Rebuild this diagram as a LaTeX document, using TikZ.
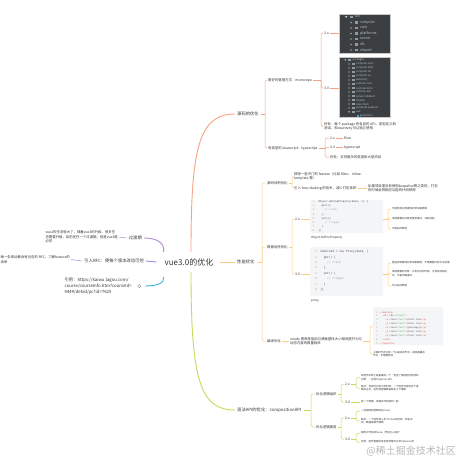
\documentclass[tikz,border=0pt]{standalone}
\usepackage{fontspec}
\setmainfont{Noto Sans CJK SC}
\setmonofont{DejaVu Sans Mono}
\definecolor{coral}{HTML}{F7A283}
\definecolor{peach}{HTML}{FDCB83}
\definecolor{lime}{HTML}{C7DA5B}
\definecolor{plum}{HTML}{B589CC}
\definecolor{lav}{HTML}{9A8FE0}
\definecolor{sky}{HTML}{34B3D5}
\definecolor{ink}{HTML}{333333}
\definecolor{darkbg}{HTML}{3C3F41}
\definecolor{panelrim}{HTML}{C8C8C8}
\definecolor{treeink}{HTML}{BFC4C8}
\definecolor{foldercol}{HTML}{8E9BA4}
\definecolor{codebg}{HTML}{F4F5F7}
\definecolor{codeink}{HTML}{4A4A4A}
\definecolor{lineno}{HTML}{A8A8A8}
\definecolor{remark}{HTML}{A0A1A7}
\definecolor{kw}{HTML}{A626A4}
\definecolor{tagred}{HTML}{E45649}
\definecolor{strgreen}{HTML}{50A14F}
\definecolor{mark}{HTML}{B8B8B8}

\begin{document}
\begin{tikzpicture}[x=1pt,y=-1pt]
  \tikzstyle{every node}+=[inner sep=1pt, text=ink]
  \tikzstyle{centre}=[font=\fontsize{8}{9}\selectfont, minimum height=20pt]
  \tikzstyle{topic}=[inner sep=2pt, font=\fontsize{4.3}{6}\selectfont, align=left]
  \tikzstyle{leaf}=[anchor=west, font=\fontsize{3.4}{4.4}\selectfont, align=left]
  \tikzstyle{fine}=[anchor=west, font=\fontsize{2.5}{3.7}\selectfont, align=left]
  \tikzstyle{trunk}=[line width=0.9pt]
  \tikzstyle{wire}=[line width=0.5pt, rounded corners=1.5pt]
  \tikzstyle{darkpanel}=[anchor=north west, fill=darkbg, draw=panelrim, line width=0.6pt, inner sep=0pt]
  \tikzstyle{codepanel}=[anchor=north west, fill=codebg, inner sep=0pt, rounded corners=1pt]
  \tikzstyle{codetext}=[anchor=north west, inner sep=0pt, align=left, text=codeink]
  \tikzstyle{treetext}=[anchor=west, inner sep=0pt, text=treeink]
  \fill[white] (0,0) rectangle (460,460);
  \useasboundingbox (0,0) rectangle (460,460);

  \node[centre] (root) at (189,262) {vue3.0的优化};

  % 源码的优化
  \node[topic, anchor=west] (src) at (235,114) {源码的优化};
  \draw[trunk, coral] ([xshift=2pt]root.north) .. controls (191,150) and (198,114) .. (src.west);
  \coordinate (srcb) at (265,114);
  \draw[wire, coral] (src.east) -- (srcb);
  \node[leaf] (mono) at (267,80) {更好的管理方式：monorepo};
  \node[leaf] (typed) at (267,148) {有类型的Javascript：typescript};
  \foreach \c in {mono,typed} \draw[wire, coral] (srcb) |- (\c.west);

  \coordinate (monob) at (321,80);
  \draw[wire, coral] (mono.east) -- (monob);
  \node[leaf] (mono2) at (323,33) {2.x};
  \node[leaf] (mono3) at (323,88) {3.0};
  \node[leaf] (monogain) at (323,126.5) {好处：每个 package 有各自的 API、类型定义和\\测试，和reactivity可以独立使用};
  \foreach \c in {mono2,mono3,monogain} \draw[wire, coral] (monob) |- (\c.west);

  \node[darkpanel, minimum width=51pt, minimum height=39pt] (tree1) at (339,14) {};
  \node[darkpanel, minimum width=51pt, minimum height=60pt] (tree2) at (339,57) {};
  \draw[wire, coral] (mono2.east) -- (mono2.east -| tree1.west);
  \draw[wire, coral] (mono3.east) -- (mono3.east -| tree2.west);

  % 2.x src tree
  \fill[treeink] (345,16.2) -- (347.4,16.2) -- (346.2,18) -- cycle;
  \fill[foldercol] (349.5,16) rectangle (352.7,18.2);
  \node[treetext, font=\fontsize{3.6}{4}\selectfont] (t1-0) at (355,17) {src};
  \foreach \name [count=\i] in {compiler,core,platforms,server,sfc,shared} {
    \fill[treeink] (350.5,{17+5.5*\i-0.9}) -- (350.5,{17+5.5*\i+0.9}) -- (352.1,{17+5.5*\i}) -- cycle;
    \fill[foldercol] (354.5,{17+5.5*\i-1}) rectangle (357.7,{17+5.5*\i+1.2});
    \node[treetext, font=\fontsize{3.6}{4}\selectfont] (t1-\i) at (360,{17+5.5*\i}) {\name};
  }

  % 3.0 packages tree
  \fill[treeink] (344.3,59.3) -- (346.3,59.3) -- (345.3,60.8) -- cycle;
  \fill[foldercol] (348.3,59.1) rectangle (350.9,60.9);
  \node[treetext, font=\fontsize{2.6}{3}\selectfont] (t2-0) at (352.5,60) {packages};
  \foreach \name [count=\i] in {compiler-core,compiler-dom,compiler-sfc,compiler-ssr,reactivity,runtime-core,runtime-dom,runtime-test,server-renderer,shared,size-check,template-explorer} {
    \fill[treeink] (348.5,{60+4*\i-0.8}) -- (348.5,{60+4*\i+0.8}) -- (349.9,{60+4*\i}) -- cycle;
    \fill[foldercol] (352,{60+4*\i-0.9}) rectangle (354.6,{60+4*\i+0.9});
    \node[treetext, font=\fontsize{2.6}{3}\selectfont] (t2-\i) at (356,{60+4*\i}) {\name};
  }
  \fill[treeink] (348.1,111.3) -- (350.1,111.3) -- (349.1,112.8) -- cycle;
  \fill[foldercol] (352,111.1) rectangle (354.6,112.9);
  \node[treetext, font=\fontsize{2.6}{3}\selectfont] (t2-13) at (356,112) {vue};
  \fill[sky] (356.5,115.1) rectangle (358.7,117);
  \node[treetext, font=\fontsize{2.6}{3}\selectfont] (t2-14) at (360,116) {global.d.ts};

  \coordinate (typedb) at (325,148);
  \draw[wire, coral] (typed.east) -- (typedb);
  \node[leaf] (ts2) at (329,138) {2.x};
  \node[leaf] (ts3) at (329,147.5) {3.0};
  \node[leaf] (tsgain) at (329,157) {好处：支持复杂的类型和大型项目};
  \foreach \c in {ts2,ts3,tsgain} \draw[wire, coral] (typedb) |- (\c.west);
  \node[leaf] (flow) at (343,138) {flow};
  \node[leaf] (tsname) at (343,147.5) {typescript};
  \draw[wire, coral] (ts2.east) -- (flow.west);
  \draw[wire, coral] (ts3.east) -- (tsname.west);

  % 性能优化
  \node[topic, anchor=west] (perf) at (235,262) {性能优化};
  \draw[trunk, peach] ([xshift=6pt]root.east) -- (perf.west);
  \coordinate (perfb) at (262,262);
  \draw[wire, peach] (perf.east) -- (perfb);
  \node[leaf] (slim) at (266,183) {源码体积优化};
  \node[leaf] (hijack) at (266,247) {数据劫持优化};
  \node[leaf] (compile) at (266,341) {编译优化};
  \foreach \c in {slim,hijack,compile} \draw[wire, peach] (perfb) |- (\c.west);

  \coordinate (slimb) at (292,183);
  \draw[wire, peach] (slim.east) -- (slimb);
  \node[leaf] (drop) at (293,176.5) {移除一些冷门的 feature（比如 filter、inline-\\template 等）};
  \node[leaf] (shake) at (293,188) {引入 tree-shaking 的技术，减少打包体积};
  \foreach \c in {drop,shake} \draw[wire, peach] (slimb) |- (\c.west);
  \node[leaf] (shakenote) at (367,188) {如果项目里没有使用keepalive等之类的，打包\\的时候会将相应功能的代码移除};
  \draw[wire, peach] (shake.east) -- (shakenote.west);

  \coordinate (hijackb) at (292,247);
  \draw[wire, peach] (hijack.east) -- (hijackb);
  \node[leaf] (hj2) at (294,219) {2.x};
  \node[leaf] (hj3) at (294,274) {3.0};
  \foreach \c in {hj2,hj3} \draw[wire, peach] (hijackb) |- (\c.west);

  \node[codepanel, minimum width=73pt, minimum height=33pt] (code1) at (310,200) {};
  \node[codetext, font=\ttfamily\fontsize{2.5}{4.1}\selectfont] (code1txt) at (312.5,200.6) {%
    {\color{lineno}1.}\ \ Object.defineProperty(data, 'a',\{\\
    {\color{lineno}2.}\ \ \ \ get()\{\\
    {\color{lineno}3.}\ \ \ \ \ \ {\color{remark}// track}\\
    {\color{lineno}4.}\ \ \ \ \},\\
    {\color{lineno}5.}\ \ \ \ set()\{\\
    {\color{lineno}6.}\ \ \ \ \ \ {\color{remark}// trigger}\\
    {\color{lineno}7.}\ \ \ \ \}\\
    {\color{lineno}8.}\ \ \})};
  \node[leaf, font=\fontsize{3}{4}\selectfont] (cap1) at (310,238) {Object.defineProperty};
  \draw[wire, peach] (hj2.east) -- (hj2.east -| code1.west);

  \node[codepanel, minimum width=73pt, minimum height=49pt] (code2) at (310,247) {};
  \node[codetext, font=\ttfamily\fontsize{2.85}{5.4}\selectfont] (code2txt) at (315,250.4) {%
    {\color{lineno}1.}\ observed = {\color{kw}new} Proxy(data, \{\\
    {\color{lineno}2.}\ \ \ get() \{\\
    {\color{lineno}3.}\ \ \ \ \ {\color{remark}// track}\\
    {\color{lineno}4.}\ \ \ \},\\
    {\color{lineno}5.}\ \ \ set() \{\\
    {\color{lineno}6.}\ \ \ \ \ {\color{remark}// trigger}\\
    {\color{lineno}7.}\ \ \ \}\\
    {\color{lineno}8.}\ \})};
  \node[leaf, font=\fontsize{3}{4}\selectfont] (cap2) at (310,301) {proxy};
  \draw[wire, peach] (hj3.east) -- (hj3.east -| code2.west);

  \coordinate (code1b) at (388,219);
  \draw[wire, peach] (code1.east |- code1b) -- (code1b);
  \node[fine] (flaw1) at (391,209) {不能检测对象属性的添加和删除};
  \node[fine] (flaw2) at (391,219) {深层嵌套的对象会使用递归，消耗性能};
  \node[fine] (flaw3) at (391,229) {不能劫持数组};
  \foreach \c in {flaw1,flaw2,flaw3} \draw[wire, peach] (code1b) |- (\c.west);

  \coordinate (code2b) at (388,274);
  \draw[wire, peach] (code2.east |- code2b) -- (code2b);
  \node[fine] (gain1) at (391,263) {能监测到属性的添加和删除，不需要额外的方法处理};
  \node[fine] (gain2) at (391,273.5) {深层嵌套的对象，只有访问的时候，才会变成响应\\式，不是无脑递归};
  \node[fine] (gain3) at (391,286) {可以劫持数组};
  \foreach \c in {gain1,gain2,gain3} \draw[wire, peach] (code2b) |- (\c.west);

  \node[leaf] (vnode) at (289,341) {vnode 更新性能由与模板整体大小相关提升为与\\动态内容的数量相关};
  \draw[wire, peach] (compile.east) -- (vnode.west);
  \coordinate (vnodeb) at (370,341);
  \draw[wire, peach] (vnode.east) -- (vnodeb);
  \node[codepanel, minimum width=70pt, minimum height=38pt] (code3) at (373,307) {};
  \node[codetext, font=\ttfamily\fontsize{2.2}{3.9}\selectfont] (code3txt) at (376,311.2) {%
    {\color{lineno}1.}\ {\color{tagred}<template>}\\
    {\color{lineno}2.}\ \ \ {\color{tagred}<div} id={\color{strgreen}"content"}{\color{tagred}>}\\
    {\color{lineno}3.}\ \ \ \ \ {\color{tagred}<p} class={\color{strgreen}"text"}{\color{tagred}>}static text{\color{tagred}</p>}\\
    {\color{lineno}4.}\ \ \ \ \ {\color{tagred}<p} class={\color{strgreen}"text"}{\color{tagred}>}static text{\color{tagred}</p>}\\
    {\color{lineno}5.}\ \ \ \ \ {\color{tagred}<p} class={\color{strgreen}"text"}{\color{tagred}>}\{\{message\}\}{\color{tagred}</p>}\\
    {\color{lineno}6.}\ \ \ \ \ {\color{tagred}<p} class={\color{strgreen}"text"}{\color{tagred}>}static text{\color{tagred}</p>}\\
    {\color{lineno}7.}\ \ \ \ \ {\color{tagred}<p} class={\color{strgreen}"text"}{\color{tagred}>}static text{\color{tagred}</p>}\\
    {\color{lineno}8.}\ \ \ {\color{tagred}</div>}\\
    {\color{lineno}9.}\ {\color{tagred}</template>}};
  \node[fine] (staticnote) at (372,354) {上面的节点只有一个p是动态节点，其余是静态\\节点，不需要检测};
  \draw[wire, peach] (vnodeb) |- (code3.west);
  \draw[wire, peach] (vnodeb) |- (staticnote.west);

  % 语法API的优化
  \node[topic, anchor=west] (api) at (235,410) {语法API的优化：compositionAPI};
  \draw[trunk, lime] ([xshift=2pt]root.south) .. controls (191,380) and (200,410) .. (api.west);
  \coordinate (apib) at (311,410);
  \draw[wire, lime] (api.east) -- (apib);
  \node[leaf] (organise) at (315,394) {优化逻辑组织};
  \node[leaf] (reuse) at (315,427) {优化逻辑复用};
  \foreach \c in {organise,reuse} \draw[wire, lime] (apib) |- (\c.west);

  \coordinate (organiseb) at (341,394);
  \draw[wire, lime] (organise.east) -- (organiseb);
  \node[leaf] (org2) at (344,384) {2.x};
  \node[leaf] (org3) at (344,402) {3.0};
  \foreach \c in {org2,org3} \draw[wire, lime] (organiseb) |- (\c.west);
  \coordinate (org2b) at (356,384);
  \draw[wire, lime] (org2.east) -- (org2b);
  \node[fine] (optobj) at (360,377.5) {写组件本质上就是编写一个“包含了描述组件选项的\\对象”，也就为options API};
  \node[fine] (optcon) at (360,388) {缺点：当组件比较大的时候，一个组件可能有多个逻\\辑关注点，这时候逻辑跳来跳去上下横跳};
  \foreach \c in {optobj,optcon} \draw[wire, lime] (org2b) |- (\c.west);
  \node[fine] (together) at (360,402) {将一个逻辑，将相关代码放到一起};
  \draw[wire, lime] (org3.east) -- (together.west);

  \coordinate (reuseb) at (341,427);
  \draw[wire, lime] (reuse.east) -- (reuseb);
  \node[leaf] (re2) at (344,418) {2.x};
  \node[leaf] (re3) at (344,439) {3.0};
  \foreach \c in {re2,re3} \draw[wire, lime] (reuseb) |- (\c.west);
  \coordinate (re2b) at (356,418);
  \draw[wire, lime] (re2.east) -- (re2b);
  \node[fine] (mixin) at (360,411) {一些相同的逻辑写在mixin};
  \node[fine] (mixincon) at (360,421) {缺点：一个组件混入多个mixin的时候，命名冲\\突，数据来源不清晰};
  \foreach \c in {mixin,mixincon} \draw[wire, lime] (re2b) |- (\c.west);
  \coordinate (re3b) at (356,439);
  \draw[wire, lime] (re3.east) -- (re3b);
  \node[fine] (hook) at (360,433) {相同工作写成hook，然后引入进行};
  \node[fine] (stillopt) at (360,442) {当然，组件里面的话也依然是可以写OptionsAPI};
  \foreach \c in {hook,stillopt} \draw[wire, lime] (re3b) |- (\c.west);

  % left side
  \node[topic, anchor=east] (past) at (144,238) {过渡期};
  \draw[trunk, plum] (root.north west) .. controls (165,243) and (157,238) .. (past.east);
  \node[leaf, anchor=east] (pastnote) at (119,237) {vue2的生态很大了，随着vue3的升级，很多生\\态需要升级，目前还在一个过渡期，但是vue3是\\必然};
  \draw[wire, plum] (past.west) -- (pastnote.east);

  \node[topic, anchor=east] (rfc) at (146,261) {引入RFC：使每个版本改动可控};
  \draw[trunk, lav] ([xshift=-7pt]root.west) -- (rfc.east);
  \node[leaf, anchor=east] (rfcnote) at (71,259.5) {每一条改动都会有对应的 RFC，了解feature的\\由来};
  \draw[wire, lav] (rfc.west) -- (rfcnote.east);

  \node[topic, anchor=east] (cite) at (134,286) {引用：https://kaiwu.lagou.com/\\course/courseInfo.htm?courseId=\\944\#/detail/pc?id=7625};
  \node[circle, draw=gray, line width=0.35pt, inner sep=0pt, minimum size=3.4pt] (citeicon) at (139.3,286) {};
  \draw[trunk, sky] ([yshift=-5pt]root.south west) .. controls (165,283) and (157,286) .. ([xshift=4pt]citeicon.east);

  \node[anchor=east, text=mark, font=\fontsize{10}{11}\selectfont] (watermark) at (457,451) {@稀土掘金技术社区};
\end{tikzpicture}
\end{document}
